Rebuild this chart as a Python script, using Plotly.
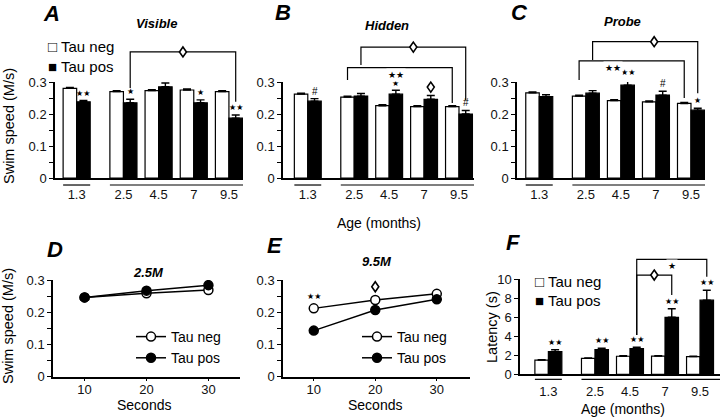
import plotly.graph_objects as go

W, H = 720, 418
FONT = "Arial, Liberation Sans, sans-serif"
SYM = "DejaVu Sans, Liberation Sans"
DIA = "dia"  # open diamond significance mark, drawn as a small shape

# ---- data ----
ages = ["1.3", "2.5", "4.5", "7", "9.5"]
age_pos = [0, 1.33, 2.33, 3.33, 4.33]

# swim speed (M/s), Tau neg / Tau pos with SEM
vis_neg = [0.280, 0.270, 0.273, 0.275, 0.270]
vis_neg_err = [0.003, 0.003, 0.003, 0.003, 0.003]
vis_pos = [0.238, 0.235, 0.285, 0.235, 0.187]
vis_pos_err = [0.004, 0.011, 0.012, 0.009, 0.010]

hid_neg = [0.262, 0.253, 0.226, 0.223, 0.223]
hid_neg_err = [0.003, 0.003, 0.003, 0.003, 0.003]
hid_pos = [0.240, 0.256, 0.262, 0.246, 0.200]
hid_pos_err = [0.008, 0.008, 0.012, 0.012, 0.011]

prb_neg = [0.266, 0.256, 0.242, 0.238, 0.233]
prb_neg_err = [0.003, 0.003, 0.003, 0.003, 0.003]
prb_pos = [0.254, 0.265, 0.290, 0.259, 0.212]
prb_pos_err = [0.006, 0.008, 0.015, 0.012, 0.006]

seconds = [10, 20, 30]
m25_neg = [0.246, 0.259, 0.269]
m25_pos = [0.246, 0.267, 0.284]
m95_neg = [0.212, 0.238, 0.257]
m95_pos = [0.143, 0.207, 0.240]

lat_neg = [1.5, 1.68, 1.9, 1.92, 1.86]
lat_neg_err = [0.05, 0.05, 0.05, 0.05, 0.05]
lat_pos = [2.38, 2.6, 2.7, 6.0, 7.8]
lat_pos_err = [0.2, 0.15, 0.15, 0.9, 1.05]


def xd(p):
    return p / W


def yd(p):
    return 1 - p / H


def ax(n):
    return ("x", "y") if n == 1 else (f"x{n}", f"y{n}")


fig = go.Figure()

HALF = 0.1925  # offset of each bar from group centre


def bar_panel(n, neg, neg_err, pos, pos_err):
    xa, ya = ax(n)
    for vals, errs, fill in ((neg, neg_err, "white"), (pos, pos_err, "black")):
        fig.add_trace(go.Bar(
            x=age_pos, y=vals, xaxis=xa, yaxis=ya, showlegend=False,
            marker=dict(color=fill, line=dict(color="black", width=1.2)),
            error_y=dict(type="data", array=errs, arrayminus=[0] * len(errs),
                         symmetric=False, color="black", thickness=1.4, width=4),
        ))


bar_panel(1, vis_neg, vis_neg_err, vis_pos, vis_pos_err)
bar_panel(2, hid_neg, hid_neg_err, hid_pos, hid_pos_err)
bar_panel(3, prb_neg, prb_neg_err, prb_pos, prb_pos_err)
bar_panel(6, lat_neg, lat_neg_err, lat_pos, lat_pos_err)

for n, x, neg, pos in ((4, seconds, m25_neg, m25_pos), (5, seconds, m95_neg, m95_pos)):
    leg = "legend" if n == 4 else "legend2"
    fig.add_trace(go.Scatter(
        x=x, y=neg, xaxis=f"x{n}", yaxis=f"y{n}", name="Tau neg", legend=leg,
        mode="lines+markers", line=dict(color="black", width=1.5),
        marker=dict(symbol="circle", size=9, color="white", line=dict(color="black", width=1.5)),
    ))
    fig.add_trace(go.Scatter(
        x=x, y=pos, xaxis=f"x{n}", yaxis=f"y{n}", name="Tau pos", legend=leg,
        mode="lines+markers", line=dict(color="black", width=1.5),
        marker=dict(symbol="circle", size=9, color="black", line=dict(color="black", width=1.5)),
    ))

speed_ticks = [0, 0.05, 0.1, 0.15, 0.2, 0.25, 0.3]
speed_text = ["0", "", "0.1", "", "0.2", "", "0.3"]

axis_common = dict(showline=True, linecolor="black", linewidth=1.5, showgrid=False,
                   zeroline=False, tickfont=dict(family=FONT, size=13, color="#111"),
                   tickcolor="black", tickwidth=1.2, automargin=False)

panels = {
    1: dict(x=(55, 243), y=(82, 178), xr=(-0.616, 4.73)),
    2: dict(x=(283, 474), y=(82, 178), xr=(-0.71, 4.76)),
    3: dict(x=(517, 705), y=(82, 178), xr=(-0.635, 4.73)),
    4: dict(x=(53, 240), y=(280, 376.7), xr=(4.9, 35.1)),
    5: dict(x=(283, 470), y=(280, 376.7), xr=(5.0, 35.4)),
    6: dict(x=(520, 720), y=(279.3, 374.3), xr=(-0.81, 4.9)),
}

layout_axes = {}
for n, p in panels.items():
    sx = "" if n == 1 else str(n)
    xa = dict(axis_common, domain=[xd(p["x"][0]), xd(p["x"][1])], range=list(p["xr"]),
              anchor=f"y{sx}")
    ya = dict(axis_common, domain=[yd(p["y"][1]), yd(p["y"][0])], anchor=f"x{sx}",
              ticks="outside", ticklen=4)
    if n in (4, 5):
        xa.update(tickvals=seconds, ticks="outside", ticklen=3, ticklabelstandoff=-3)
    else:
        xa.update(tickvals=age_pos, ticktext=ages, ticks="", ticklabelstandoff=4)
    if n == 6:
        ya.update(range=[0, 10], tickvals=[0, 2, 4, 6, 8, 10])
    else:
        ya.update(range=[0, 0.3], tickvals=speed_ticks, ticktext=speed_text)
    layout_axes[f"xaxis{sx}"] = xa
    layout_axes[f"yaxis{sx}"] = ya

fig.update_layout(**layout_axes)

shapes = []
ann = []


def line_path(n, pts, ymax):
    sx = "" if n == 1 else str(n)
    d = "M " + " L ".join(f"{x},{y / ymax}" for x, y in pts)
    shapes.append(dict(type="path", path=d, xref=f"x{sx}", yref=f"y{sx} domain",
                       layer="below", line=dict(color="black", width=1.2)))


def add_diamond(n, x, y, ymax):
    # small open diamond, sized in pixels around an anchor point
    sx = "" if n == 1 else str(n)
    shapes.append(dict(type="path", path="M0,5 L3.5,0 L0,-5 L-3.5,0 Z",
                       xref=f"x{sx}", yref=f"y{sx} domain", xsizemode="pixel",
                       ysizemode="pixel", xanchor=x, yanchor=y / ymax, layer="above",
                       fillcolor="white", line=dict(color="black", width=1.6)))


def bracket(n, x1, x2, y1, y2, top, label, ymax, shift=0):
    sx = "" if n == 1 else str(n)
    line_path(n, [(x1, y1), (x1, top), (x2, top), (x2, y2)], ymax)
    if label == DIA:
        unit = (panels[n]["xr"][1] - panels[n]["xr"][0]) / (panels[n]["x"][1] - panels[n]["x"][0])
        add_diamond(n, (x1 + x2) / 2 + shift * unit, top, ymax)
        return
    ann.append(dict(x=(x1 + x2) / 2, y=top / ymax, xref=f"x{sx}", yref=f"y{sx} domain",
                    text=label, showarrow=False, bgcolor="white", borderpad=1, xshift=shift,
                    font=dict(family=SYM, size=9, color="black")))


def mark(n, x, y, label, ymax, size=8, shift=1, fam=SYM):
    sx = "" if n == 1 else str(n)
    ann.append(dict(x=x, y=y / ymax, xref=f"x{sx}", yref=f"y{sx} domain", text=label,
                    showarrow=False, yanchor="bottom", yshift=shift,
                    font=dict(family=fam, size=size, color="black")))


def underlines(n, depth, xmax):
    line_path(n, [(age_pos[0] - 2 * HALF, depth), (age_pos[0] + 2 * HALF, depth)], 1)
    line_path(n, [(age_pos[1] - 2 * HALF, depth), (xmax, depth)], 1)


underlines(1, -0.073, panels[1]["xr"][1])
underlines(2, -0.073, panels[2]["xr"][1])
underlines(3, -0.073, panels[3]["xr"][1])
underlines(6, -0.053, panels[6]["xr"][1])

bk = [p + HALF for p in age_pos]
wh = [p - HALF for p in age_pos]

# panel A marks
for i, s in ((0, "★★"), (1, "★"), (3, "★"), (4, "★★")):
    mark(1, bk[i], vis_pos[i] + vis_pos_err[i], s, 0.3)
bracket(1, bk[1], bk[4], 0.281, 0.238, 0.394, DIA, 0.3)

# panel B marks
for i, s in ((0, "#"), (4, "#")):
    mark(2, bk[i], hid_pos[i] + hid_pos_err[i], s, 0.3, 10, 0, FONT)
mark(2, bk[2], hid_pos[2] + hid_pos_err[2], "★", 0.3, 8, 0)
add_diamond(2, bk[3], hid_pos[3] + hid_pos_err[3] + 0.026, 0.3)
bracket(2, bk[1], bk[4], 0.353, 0.244, 0.409, DIA, 0.3)
bracket(2, wh[1], wh[4], 0.306, 0.234, 0.345, "★★", 0.3, -4)

# panel C marks
mark(3, bk[2], prb_pos[2] + prb_pos_err[2], "★★", 0.3)
mark(3, bk[3], prb_pos[3] + prb_pos_err[3], "#", 0.3, 10, 0, FONT)
mark(3, bk[4], prb_pos[4] + prb_pos_err[4], "★", 0.3)
bracket(3, bk[1], bk[4], 0.369, 0.265, 0.426, DIA, 0.3, 9)
bracket(3, wh[1], wh[4], 0.306, 0.25, 0.366, "★★", 0.3, -19)

# panel E marks
mark(5, seconds[0], m95_neg[0], "★★", 0.3, 8, 5)
add_diamond(5, seconds[1], 0.279, 0.3)

# panel F marks
for i in range(5):
    mark(6, bk[i], lat_pos[i] + lat_pos_err[i], "★★", 10)
bracket(6, bk[2], bk[4], 4.14, 10.27, 12.1, "★", 10)
bracket(6, bk[2], bk[3], 4.14, 8.35, 10.45, DIA, 10)


def text(x, y, s, size=14, bold=False, italic=False, angle=0, anchor="center"):
    t = s
    if bold:
        t = f"<b>{t}</b>"
    if italic:
        t = f"<i>{t}</i>"
    ann.append(dict(x=xd(x), y=yd(y), xref="paper", yref="paper", text=t, showarrow=False,
                    textangle=angle, xanchor=anchor, yanchor="middle",
                    font=dict(family=FONT, size=size, color="black")))


# panel letters and titles
for x, y, s in ((51, 13.5, "A"), (283, 12, "B"), (519, 12, "C"),
                (55, 249, "D"), (275, 245, "E"), (513, 242, "F")):
    text(x, y, s, 22, True, True)
for x, y, s in ((156, 23, "Visible"), (387, 25, "Hidden"), (622, 22, "Probe"),
                (148, 272, "2.5M"), (377, 261, "9.5M")):
    text(x, y, s, 13, True, True)

# axis titles
text(9, 126, "Swim speed (M/s)", 14.5, angle=-90)
text(8, 326, "Swim speed (M/s)", 14.5, angle=-90)
text(492, 327, "Latency (s)", 14.5, angle=-90)
text(379, 223, "Age (months)", 14)
text(623, 409, "Age (months)", 14)
text(144, 405, "Seconds", 14)
text(375, 405, "Seconds", 14)

# bar legends
text(46, 47, "□ Tau neg", 15, anchor="left")
text(46, 66, "■ Tau pos", 15, anchor="left")
text(533, 281, "□ Tau neg", 15, anchor="left")
text(533, 300, "■ Tau pos", 15, anchor="left")

leg = dict(font=dict(family=FONT, size=14, color="black"), bgcolor="rgba(0,0,0,0)",
           xanchor="left", yanchor="top", tracegroupgap=0)
fig.update_layout(
    width=W, height=H, margin=dict(l=0, r=0, t=0, b=0, autoexpand=False),
    paper_bgcolor="white", plot_bgcolor="white",
    barmode="group", bargap=0.23, bargroupgap=0,
    legend=dict(leg, x=xd(131), y=yd(321)),
    legend2=dict(leg, x=xd(357), y=yd(321)),
    shapes=shapes, annotations=ann,
)

# page body has a default 8px margin; remove it so the figure fills the window
fig.write_html("out.html", config={"displayModeBar": False},
               post_script="document.body.style.margin='0';")
